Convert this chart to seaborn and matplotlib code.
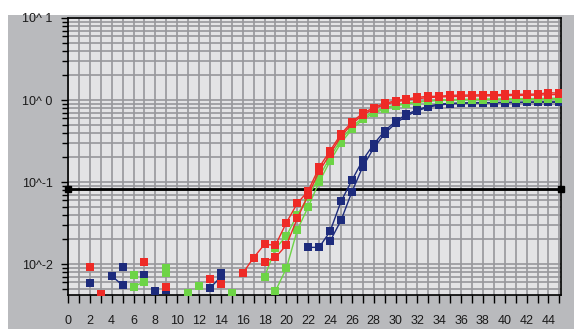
import numpy as np
import pandas as pd
import matplotlib
matplotlib.use("Agg")
import matplotlib.pyplot as plt
from matplotlib.patches import Rectangle
from matplotlib.ticker import MultipleLocator, LogLocator, NullFormatter, FixedLocator, FixedFormatter
import seaborn as sns

nan = np.nan
cycles = list(range(1, 46))

red_a = [nan, 0.0093, nan, nan, nan, nan, 0.0107, nan, nan, nan,
         nan, nan, 0.0065, nan, nan, 0.0077, 0.012, 0.0174, 0.017, 0.032,
         0.055, 0.078, 0.151, 0.24, 0.385, 0.54, 0.69, 0.81, 0.91, 0.98,
         1.03, 1.08, 1.11, 1.11, 1.14, 1.15, 1.15, 1.16, 1.16, 1.17,
         1.17, 1.18, 1.18, 1.23, 1.21]
red_b = [nan, nan, 0.0043, nan, nan, nan, nan, nan, 0.0053, nan,
         nan, nan, nan, 0.0057, nan, nan, nan, 0.0107, 0.0121, 0.017,
         0.036, 0.070, 0.135, 0.22, 0.36, 0.51, 0.66, 0.78, 0.88, 0.95,
         1.00, 1.04, 1.07, 1.09, 1.10, 1.11, 1.12, 1.12, 1.13, 1.13,
         1.14, 1.14, 1.15, 1.16, 1.17]
green_a = [nan, nan, nan, nan, nan, 0.0074, nan, nan, 0.0090, nan,
           nan, 0.0054, nan, nan, nan, nan, nan, 0.0070, 0.0155, 0.022,
           0.040, 0.066, 0.116, 0.20, 0.33, 0.47, 0.61, 0.72, 0.80, 0.87,
           0.92, 0.95, 0.98, 1.00, 1.01, 1.02, 1.02, 1.03, 1.03, 1.03,
           1.04, 1.04, 1.04, 1.05, 1.05]
green_b = [nan, nan, nan, nan, nan, 0.0053, 0.0061, nan, 0.0078, nan,
           0.0045, nan, nan, nan, 0.0045, nan, nan, nan, 0.0047, 0.0089,
           0.026, 0.050, 0.100, 0.18, 0.30, 0.44, 0.58, 0.69, 0.78, 0.85,
           0.90, 0.94, 0.97, 0.99, 1.00, 1.01, 1.01, 1.01, 1.02, 1.02,
           1.02, 1.02, 1.03, 1.03, 1.03]
blue_a = [nan, 0.0059, nan, nan, 0.0091, nan, 0.0074, nan, 0.0048, nan,
          nan, nan, nan, 0.0078, nan, nan, nan, nan, nan, nan,
          nan, 0.016, 0.016, 0.025, 0.058, 0.105, 0.186, 0.29, 0.42, 0.55,
          0.67, 0.76, 0.84, 0.89, 0.91, 0.92, 0.93, 0.93, 0.93, 0.94,
          0.94, 0.94, 0.95, 0.95, 0.95]
blue_b = [nan, nan, nan, 0.0072, 0.0055, nan, nan, 0.0047, nan, nan,
          nan, nan, 0.0051, 0.0070, nan, nan, nan, nan, nan, nan,
          nan, nan, nan, 0.019, 0.034, 0.076, 0.154, 0.26, 0.39, 0.52,
          0.64, 0.74, 0.82, 0.87, 0.90, 0.91, 0.92, 0.92, 0.93, 0.93,
          0.93, 0.94, 0.94, 0.94, 0.94]

threshold = 0.083
y_labels = ["10^-2", "10^-1", "10^ 0", "10^ 1"]
y_label_pos = [1e-2, 1e-1, 1e0, 1e1]

series = {
    ("blue", "a"): blue_a, ("blue", "b"): blue_b,
    ("green", "a"): green_a, ("green", "b"): green_b,
    ("red", "a"): red_a, ("red", "b"): red_b,
}

# split every run into pieces at missing values, so lines break like the original
rows = []
for (grp, rep), vals in series.items():
    seg = 0
    prev_ok = False
    for c, v in zip(cycles, vals):
        ok = not np.isnan(v)
        if ok and not prev_ok:
            seg += 1
        if ok:
            rows.append({"cycle": c, "value": v, "group": grp, "unit": f"{grp}{rep}{seg}"})
        prev_ok = ok
df = pd.DataFrame(rows)

sns.set_style("white")
plt.rcParams["font.family"] = ["Liberation Sans", "DejaVu Sans"]

fig = plt.figure(figsize=(5.74, 3.29), dpi=100)
fig.patch.set_facecolor("white")
fig.patches.append(Rectangle((8 / 574, 0), 1, 1 - 15 / 329, transform=fig.transFigure,
                             facecolor="#b9babd", edgecolor="none", zorder=-10))
ax = fig.add_axes([68 / 574, 1 - 295 / 329, (561 - 68) / 574, (295 - 18) / 329])
ax.set_facecolor("#e3e3e5")

palette = {"red": "#ee2a26", "green": "#6dd446", "blue": "#1d2b7c"}

ax.plot([0, 45.15], [threshold, threshold], color="black", lw=2, marker="s", ms=5,
        clip_on=False, zorder=2)

sns.lineplot(data=df, x="cycle", y="value", hue="group", units="unit", estimator=None,
             palette=palette, hue_order=["blue", "green", "red"], sort=True,
             marker="s", markersize=5.5, markeredgewidth=0, linewidth=1,
             legend=False, ax=ax, zorder=3)

ax.set_yscale("log")
ax.set_xlim(0, 45.15)
ax.set_ylim(0.0042, 10)

ax.xaxis.set_major_locator(MultipleLocator(2))
ax.xaxis.set_minor_locator(MultipleLocator(1))
ax.yaxis.set_major_locator(FixedLocator(y_label_pos))
ax.yaxis.set_major_formatter(FixedFormatter(y_labels))
ax.yaxis.set_minor_locator(LogLocator(base=10, subs=np.arange(2, 10)))
ax.yaxis.set_minor_formatter(NullFormatter())

ax.grid(True, which="both", color="#97979b", lw=1.2)
ax.set_axisbelow(True)

ax.tick_params(axis="x", which="both", direction="out", length=5.8, width=1,
               color="black", pad=8.5, labelsize=9, labelcolor="#1a1a1a", bottom=True)
ax.tick_params(axis="y", which="major", direction="out", length=5, width=1,
               color="black", pad=6, labelsize=9, labelcolor="#1a1a1a", left=True)
ax.tick_params(axis="y", which="minor", direction="out", length=4, width=1,
               color="black", left=True)

for s in ax.spines.values():
    s.set_color("black")
    s.set_linewidth(1.2)

ax.set_xlabel("")
ax.set_ylabel("")

fig.savefig("out.png", dpi=100)
